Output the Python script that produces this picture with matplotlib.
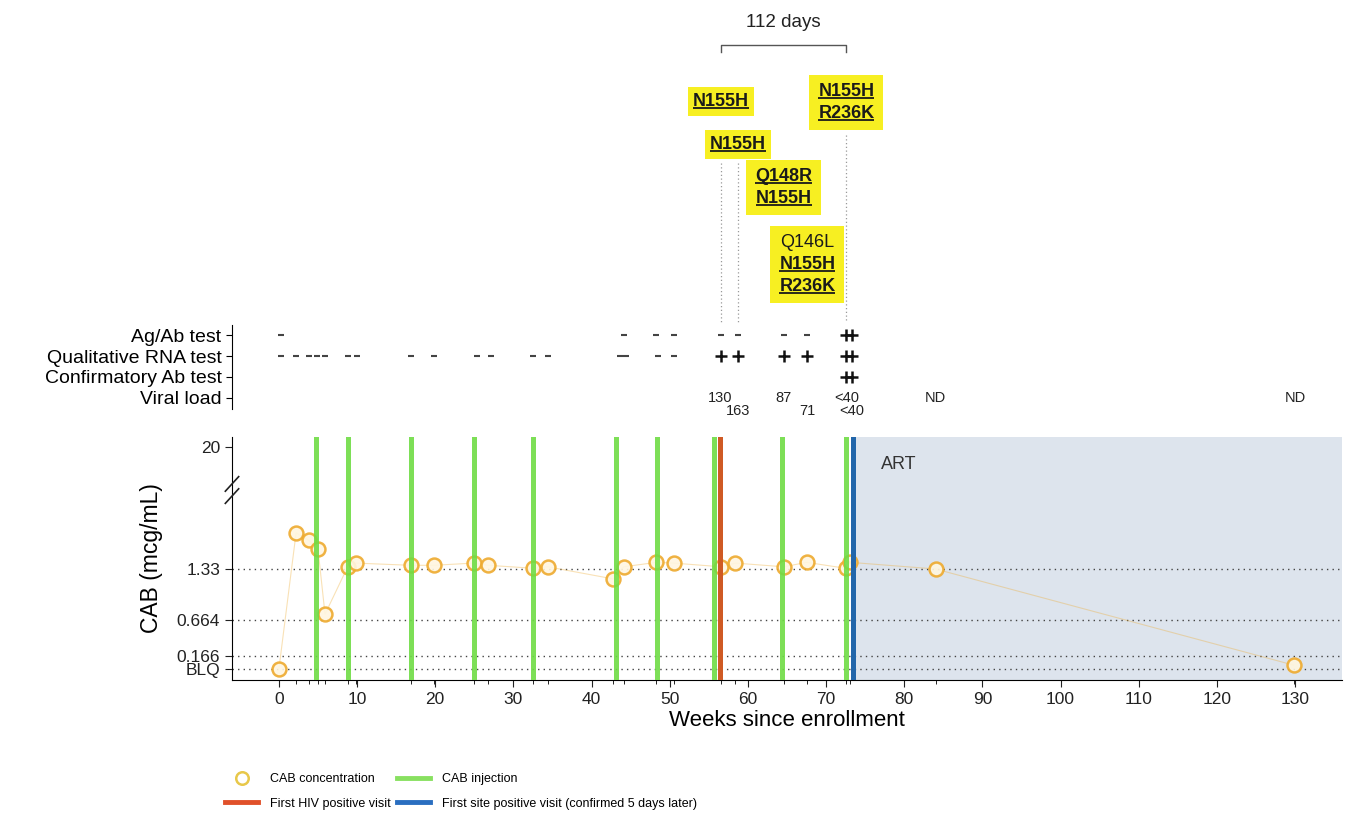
import numpy as np
import matplotlib
matplotlib.use("Agg")
import matplotlib.pyplot as plt
from matplotlib.lines import Line2D
from matplotlib.patches import Rectangle

plt.rcParams['font.family'] = ['Liberation Sans', 'DejaVu Sans']

# ------------------------------------------------------------
# data (weeks since enrollment)
# ------------------------------------------------------------
cab_weeks = [0, 2.2, 3.8, 5.0, 5.9, 8.8, 9.8, 16.9, 19.8, 24.9, 26.8, 32.5, 34.4,
             42.8, 44.1, 48.3, 50.5, 56.6, 58.4, 64.6, 67.5, 72.5, 73.1, 84.0, 129.8]
cab_conc = [0.0, 1.82, 1.72, 1.60, 0.74, 1.36, 1.41, 1.38, 1.38, 1.41, 1.38, 1.34, 1.36,
            1.20, 1.36, 1.42, 1.41, 1.36, 1.41, 1.36, 1.42, 1.34, 1.42, 1.33, 0.05]

injection_weeks = [4.7, 8.8, 16.9, 24.9, 32.5, 43.1, 48.4, 55.7, 64.4, 72.6]
first_hiv_pos_week = 56.4
first_site_pos_week = 73.4

ref_levels = [0.0, 0.166, 0.664, 1.33]
ytick_vals = [0.0, 0.166, 0.664, 1.33, 20]
ytick_labels = ['BLQ', '0.166', '0.664', '1.33', '20']

test_rows = ['Ag/Ab test', 'Qualitative RNA test', 'Confirmatory Ab test', 'Viral load']

agab_neg = [0.3, 44.1, 48.3, 50.5, 56.5, 58.7, 64.6, 67.6]
agab_pos = [72.6, 73.3]
rna_neg = [0.3, 2.2, 3.8, 4.9, 5.9, 8.8, 10.0, 16.9, 19.8, 25.4, 27.1, 32.5, 34.4,
           43.6, 44.4, 48.5, 50.5]
rna_pos = [56.5, 58.7, 64.6, 67.6, 72.6, 73.3]
confab_pos = [72.6, 73.3]

vl_weeks = [56.5, 58.7, 64.6, 67.6, 72.6, 73.3, 84.0, 130.0]
vl_text = ['130', '163', '87', '71', '<40', '<40', 'ND', 'ND']

mut_weeks = [56.5, 58.7, 64.6, 67.6, 72.6]
mut_labels = [['N155H'], ['N155H'], ['Q148R', 'N155H'],
              ['Q146L', 'N155H', 'R236K'], ['N155H', 'R236K']]
major_mut = ['N155H', 'Q148R', 'R236K']
interval_days = 112

# ------------------------------------------------------------
# colours
# ------------------------------------------------------------
c_orange = '#eeaa2e'
c_green = '#6fdc45'
c_red = '#cf5a24'
c_blue = '#2266aa'
c_shade = '#dde4ed'
c_yellow = '#f7ef22'

# broken / stretched y axis: piecewise linear mapping value -> height
Y_VALS = np.array([-0.15, 0.0, 0.166, 0.664, 1.33, 2.4, 20.0, 24.0])
Y_POS = np.array([0, 11, 24, 60, 111, 190, 233, 243], dtype=float)


def fwd(v):
    return np.interp(v, Y_VALS, Y_POS)


def inv(p):
    return np.interp(p, Y_POS, Y_VALS)


W, H = 1357, 822


def frame(x0, y0, x1, y1):
    return [x0 / W, 1 - y1 / H, (x1 - x0) / W, (y1 - y0) / H]


fig = plt.figure(figsize=(W / 100, H / 100), dpi=100)
ax = fig.add_axes(frame(232, 437, 1342, 680))
ax_t = fig.add_axes(frame(232, 325, 1342, 409), sharex=ax)
ax_a = fig.add_axes(frame(232, 0, 1342, 322), sharex=ax)

# ------------------------------------------------------------
# main concentration panel
# ------------------------------------------------------------
ax.set_yscale('function', functions=(fwd, inv))
ax.set_xlim(-6, 136)
ax.set_ylim(-0.15, 24)

ax.axvspan(first_site_pos_week, 136, color=c_shade, zorder=0, lw=0)
for lv in ref_levels:
    ax.axhline(lv, color='#444444', lw=1, ls=(0, (1, 3)), zorder=1)

ax.plot(cab_weeks, cab_conc, color=c_orange, lw=0.8, alpha=0.35, zorder=2)
ax.plot(cab_weeks, cab_conc, ls='none', marker='o', ms=10, mfc='#fff6e0', mec=c_orange,
        mew=1.8, alpha=0.9, zorder=3)

for w in injection_weeks:
    ax.axvline(w, color=c_green, lw=3.6, alpha=0.9, zorder=4)
ax.axvline(first_hiv_pos_week, color=c_red, lw=3.6, zorder=5)
ax.axvline(first_site_pos_week, color=c_blue, lw=3.6, zorder=5)

ax.text(77, 0.885, 'ART', transform=ax.get_xaxis_transform(), fontsize=13,
        color='#333333', va='center')

ax.set_yticks(ytick_vals)
ax.set_yticklabels(ytick_labels)
ax.set_xticks(np.arange(0, 131, 10))
ax.set_xticks(cab_weeks, minor=True)
ax.tick_params(axis='both', labelsize=12.5, colors='#222222', length=5)
ax.tick_params(axis='x', which='minor', length=3)
ax.spines['top'].set_visible(False)
ax.spines['right'].set_visible(False)
ax.set_xlabel('Weeks since enrollment', fontsize=16, labelpad=2)
ax.set_ylabel('CAB (mcg/mL)', fontsize=16.5, labelpad=10)

# axis break marks
brk = fwd(2.4) / Y_POS[-1]
for dy in (-0.025, 0.025):
    ax.plot([-0.006, 0.006], [brk + dy - 0.03, brk + dy + 0.03], transform=ax.transAxes,
            color='#222222', lw=1.2, clip_on=False, zorder=6)

# ------------------------------------------------------------
# test results panel
# ------------------------------------------------------------
ax_t.set_ylim(3.55, -0.5)
ax_t.set_yticks(range(len(test_rows)))
ax_t.set_yticklabels(test_rows, fontsize=14)
ax_t.tick_params(axis='y', length=4)
ax_t.tick_params(axis='x', which='both', bottom=False, labelbottom=False)
for s in ('top', 'right', 'bottom'):
    ax_t.spines[s].set_visible(False)

ax_t.plot(agab_neg, [0] * len(agab_neg), ls='none', marker='_', ms=5, mew=1.5, color='#444444')
ax_t.plot(agab_pos, [0] * len(agab_pos), ls='none', marker='+', ms=8, mew=1.8, color='#111111')
ax_t.plot(rna_neg, [1] * len(rna_neg), ls='none', marker='_', ms=5, mew=1.5, color='#444444')
ax_t.plot(rna_pos, [1] * len(rna_pos), ls='none', marker='+', ms=8, mew=1.8, color='#111111')
ax_t.plot(confab_pos, [2] * len(confab_pos), ls='none', marker='+', ms=8, mew=1.8, color='#111111')

prev = -100
for w, t in zip(vl_weeks, vl_text):
    low = (w - prev) < 3.5
    ax_t.text(w, 3 + (0.65 if low else 0), t, ha='center', va='center', fontsize=10.5,
              color='#222222')
    prev = w

# ------------------------------------------------------------
# resistance mutations on top (y axis of this panel is in pixels from the top)
# ------------------------------------------------------------
ax_a.axis('off')
ax_a.set_ylim(322, 0)

box_y = [101, 144, 187, 264, 102]
line_h = 22
groups = []
for w, muts, y in zip(mut_weeks, mut_labels, box_y):
    n = len(muts)
    texts = []
    for i, m in enumerate(muts):
        yy = y + (i - (n - 1) / 2) * line_h
        major = m in major_mut
        t = ax_a.text(w, yy, m, ha='center', va='center', fontsize=13, zorder=4,
                      fontweight='bold' if major else 'normal', color='#1a1a1a')
        texts.append((t, major))
    groups.append(texts)

fig.canvas.draw()
inv_a = ax_a.transData.inverted()
for texts in groups:
    bbs = [t.get_window_extent() for t, _ in texts]
    n = len(bbs)
    padx = 5 if n == 1 else 9
    pady = 6 if n == 1 else 8
    x0 = min(b.x0 for b in bbs) - padx
    x1 = max(b.x1 for b in bbs) + padx
    y0 = min(b.y0 for b in bbs) - pady
    y1 = max(b.y1 for b in bbs) + pady
    (dx0, dy0), (dx1, dy1) = inv_a.transform([[x0, y0], [x1, y1]])
    ax_a.add_patch(Rectangle((dx0, dy1), dx1 - dx0, dy0 - dy1, fc=c_yellow, ec='none', zorder=2))
    for (t, major), b in zip(texts, bbs):
        if major:
            (ux0, uy), (ux1, _) = inv_a.transform([[b.x0, b.y0 + 2], [b.x1, b.y0]])
            ax_a.plot([ux0, ux1], [uy, uy], color='#1a1a1a', lw=1.3,
                      solid_capstyle='butt', zorder=5)

for w, y0 in zip([mut_weeks[0], mut_weeks[1], mut_weeks[4]], [163, 163, 135]):
    ax_a.plot([w, w], [y0, 322], color='#999999', lw=0.9, ls=(0, (1, 2)), clip_on=False)

b0 = mut_weeks[0]
b1 = b0 + interval_days / 7
ax_a.plot([b0, b0, b1, b1], [52, 45, 45, 52], color='#555555', lw=1)
ax_a.text((b0 + b1) / 2, 22, '%d days' % interval_days, ha='center', va='center',
          fontsize=13.5, color='#222222')

# ------------------------------------------------------------
# legend
# ------------------------------------------------------------
handles = [
    Line2D([], [], ls='none', marker='o', ms=9, mfc='white', mec='#e8c84a', mew=1.8),
    Line2D([], [], color='#e0502a', lw=3.5),
    Line2D([], [], color='#88e060', lw=3.5),
    Line2D([], [], color='#2a6ec0', lw=3.5),
]
labels = ['CAB concentration', 'First HIV positive visit', 'CAB injection',
          'First site positive visit (confirmed 5 days later)']
fig.legend(handles, labels, ncol=2, loc='upper left', bbox_to_anchor=(214 / W, 1 - 762 / H),
           frameon=False, fontsize=9, handlelength=2.6, columnspacing=0.5,
           labelspacing=1.0, handletextpad=1.0)

fig.savefig('out.png', dpi=100)
